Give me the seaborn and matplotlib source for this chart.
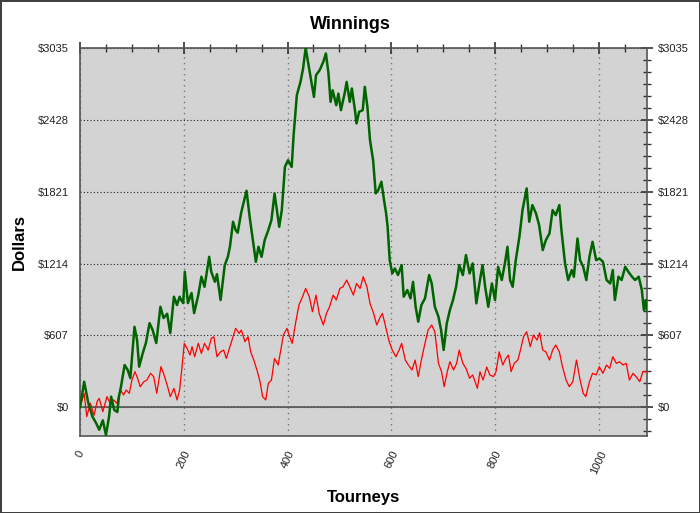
import numpy as np
import pandas as pd
import matplotlib
matplotlib.use('Agg')
import matplotlib.pyplot as plt
import seaborn as sns
from matplotlib.ticker import FixedLocator, MultipleLocator

# values
green_tourney = [0, 8, 16, 24, 31, 37, 44, 50, 56, 60, 66, 72, 75, 79, 86, 92, 97, 105, 110, 114,
                 121, 127, 134, 140, 147, 155, 161, 168, 174, 181, 187, 192, 195, 199, 202, 208, 215, 220, 228, 234,
                 240, 249, 253, 260, 264, 271, 279, 285, 289, 295, 300, 304, 311, 321, 327, 334, 339, 344, 350, 356,
                 363, 369, 375, 384, 389, 395, 401, 408, 412, 418, 425, 430, 435, 440, 446, 451, 455, 462, 469, 474,
                 479, 483, 487, 494, 498, 503, 510, 514, 520, 524, 530, 533, 538, 545, 549, 554, 559, 565, 570, 575,
                 581, 586, 590, 593, 597, 602, 607, 613, 620, 624, 631, 637, 642, 647, 652, 658, 665, 673, 678, 684,
                 691, 696, 701, 707, 713, 719, 725, 731, 738, 744, 751, 757, 764, 771, 776, 781, 787, 794, 800, 806,
                 813, 819, 824, 829, 834, 840, 847, 853, 861, 866, 872, 879, 885, 892, 898, 905, 911, 917, 924, 928,
                 935, 941, 948, 952, 959, 964, 970, 976, 982, 988, 995, 1001, 1008, 1015, 1022, 1027, 1031, 1038, 1044, 1051,
                 1057, 1064, 1070, 1077, 1083, 1087, 1091, 1093]
green_dollars = [0, 216, 36, -79, -133, -190, -110, -234, -79, 90, -23, -40, 90, 174, 357, 315, 247, 680, 568, 343,
                 458, 543, 711, 653, 543, 849, 754, 790, 627, 934, 864, 934, 906, 880, 1145, 880, 965, 796, 948, 1103,
                 1018, 1271, 1145, 1060, 1124, 906, 1201, 1271, 1356, 1567, 1497, 1475, 1651, 1829, 1609, 1385, 1229, 1356, 1271, 1412,
                 1497, 1581, 1807, 1525, 1666, 2031, 2087, 2031, 2313, 2637, 2749, 2862, 3035, 2904, 2749, 2622, 2806, 2848, 2918, 2989,
                 2820, 2580, 2678, 2552, 2650, 2510, 2650, 2749, 2580, 2693, 2510, 2398, 2496, 2510, 2707, 2538, 2257, 2087, 1807, 1835,
                 1905, 1751, 1640, 1525, 1243, 1131, 1173, 1117, 1201, 934, 990, 920, 1060, 849, 723, 863, 920, 1117, 1046, 849,
                 765, 653, 484, 709, 821, 906, 1018, 1201, 1117, 1286, 1131, 1215, 878, 1075, 1201, 1018, 849, 1046, 906, 1187,
                 1075, 1215, 1356, 1075, 1018, 1243, 1440, 1666, 1849, 1567, 1708, 1638, 1539, 1328, 1412, 1469, 1666, 1623, 1708, 1497,
                 1215, 1075, 1159, 1103, 1426, 1243, 1187, 1075, 1271, 1398, 1243, 1257, 1230, 1075, 1046, 1159, 906, 1103, 1075, 1187,
                 1145, 1103, 1075, 1103, 990, 821, 906, 820]

red_tourney = [0, 8, 13, 20, 27, 33, 37, 44, 52, 58, 65, 71, 78, 84, 89, 95, 100, 106, 111, 116,
               123, 129, 136, 142, 148, 156, 161, 168, 174, 181, 187, 192, 196, 201, 208, 212, 216, 221, 228, 234,
               240, 247, 253, 258, 264, 271, 277, 282, 288, 295, 300, 307, 311, 318, 324, 329, 335, 342, 347, 352,
               358, 363, 369, 375, 382, 387, 392, 399, 404, 409, 416, 422, 429, 435, 442, 448, 455, 461, 469, 475,
               481, 488, 494, 501, 507, 514, 520, 527, 533, 540, 546, 553, 559, 566, 572, 579, 583, 589, 596, 602,
               609, 615, 620, 627, 633, 640, 646, 652, 658, 665, 671, 678, 684, 691, 697, 702, 708, 713, 720, 726,
               731, 738, 744, 751, 757, 766, 771, 777, 784, 790, 797, 802, 808, 815, 821, 826, 831, 837, 844, 849,
               855, 861, 868, 874, 881, 886, 892, 898, 905, 911, 917, 924, 930, 937, 943, 950, 957, 964, 970, 975,
               982, 988, 995, 1001, 1008, 1015, 1021, 1027, 1034, 1040, 1047, 1053, 1059, 1066, 1072, 1079, 1085, 1093]
red_dollars = [0, 118, -79, 34, -68, 48, 76, -37, 90, 34, 62, 34, 146, 104, 146, 118, 230, 301, 245, 174,
               216, 230, 287, 259, 118, 343, 287, 188, 90, 160, 62, 146, 315, 540, 483, 441, 512, 427, 540, 455,
               540, 483, 582, 596, 427, 469, 483, 413, 498, 596, 667, 624, 653, 554, 596, 469, 399, 301, 216, 90,
               62, 202, 230, 413, 357, 483, 610, 667, 596, 540, 723, 864, 934, 1004, 934, 807, 948, 793, 695, 793,
               849, 948, 906, 1004, 1018, 1075, 1018, 948, 1046, 1004, 1103, 1018, 878, 793, 695, 765, 793, 681, 554, 483,
               427, 483, 540, 399, 357, 315, 399, 259, 399, 540, 653, 695, 638, 371, 301, 174, 301, 385, 315, 371,
               483, 371, 329, 245, 273, 160, 300, 230, 340, 273, 259, 301, 469, 357, 413, 441, 301, 371, 399, 483,
               596, 638, 512, 610, 568, 630, 483, 469, 399, 483, 526, 469, 343, 230, 174, 216, 399, 230, 118, 90,
               216, 287, 273, 343, 287, 357, 329, 427, 371, 385, 357, 371, 230, 287, 259, 216, 301, 301]

y_ticks = [0, 607, 1214, 1821, 2428, 3035]
y_labels = ['$0', '$607', '$1214', '$1821', '$2428', '$3035']
x_ticks = [0, 200, 400, 600, 800, 1000]

green_df = pd.DataFrame({'Tourneys': green_tourney, 'Dollars': green_dollars})
red_df = pd.DataFrame({'Tourneys': red_tourney, 'Dollars': red_dollars})

sns.set_style('white', {'axes.facecolor': '#d3d3d3'})
plt.rcParams['font.family'] = ['Liberation Sans', 'DejaVu Sans']

fig = plt.figure(figsize=(7, 5.13), dpi=100, edgecolor='#404040', linewidth=2)
ax = fig.add_axes([0.1143, 0.150, 0.8100, 0.7564])

ax.axhline(0, color='#555555', lw=1.2, zorder=1)
sns.lineplot(x='Tourneys', y='Dollars', data=red_df, color='#ff0000', lw=0.9, ax=ax, zorder=3)
sns.lineplot(x='Tourneys', y='Dollars', data=green_df, color='#006400', lw=1.8, ax=ax, zorder=4)

ax.set_xlim(0, 1093)
ax.set_ylim(-243, 3035)
ax.yaxis.set_major_locator(FixedLocator(y_ticks))
ax.set_yticklabels(y_labels)
ax.yaxis.set_minor_locator(MultipleLocator(607 / 6))
ax.xaxis.set_major_locator(FixedLocator(x_ticks))
ax.set_xticklabels([str(t) for t in x_ticks], rotation=65)
ax.xaxis.set_minor_locator(MultipleLocator(50))

ax.grid(which='major', axis='x', linestyle=(0, (1, 3)), color='#777777', lw=1)
ax.grid(which='major', axis='y', linestyle=(0, (1, 2)), color='#222222', lw=0.8)
ax.set_axisbelow(True)

ax.tick_params(axis='both', which='major', direction='inout', length=9, width=1.2,
               color='#333333', labelsize=8, labelcolor='#222222')
ax.tick_params(axis='both', which='minor', direction='inout', length=6, width=1, color='#333333')
ax.tick_params(axis='y', right=True, labelright=True, which='both')
ax.tick_params(axis='x', top=True, which='both')
ax.tick_params(axis='x', which='major', pad=5)

for s in ax.spines.values():
    s.set_color('#555555')
    s.set_linewidth(1.2)

ax.set_xlabel('Tourneys', fontsize=12, fontweight='bold', labelpad=10, color='black')
ax.set_ylabel('Dollars', fontsize=12, fontweight='bold', labelpad=8, color='black')
fig.text(0.5, 0.953, 'Winnings', ha='center', va='center', fontsize=13, fontweight='bold', color='black')

fig.savefig('out.png', dpi=100, edgecolor=fig.get_edgecolor())
